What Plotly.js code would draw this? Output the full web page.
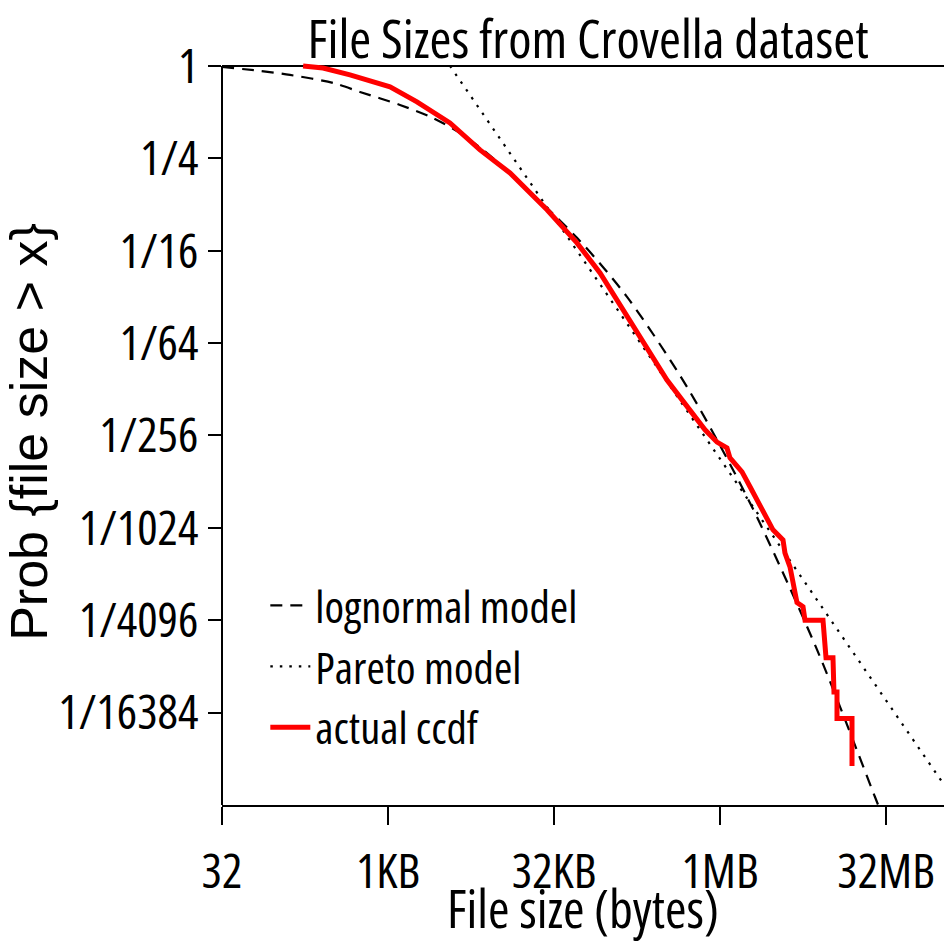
<!DOCTYPE html>
<html>
<head>
<meta charset="utf-8">
<script src="https://cdn.plot.ly/plotly-3.0.1.min.js"></script>
<style>
  html, body { margin: 0; padding: 0; background: #fff; }
  #chart { width: 944px; height: 942px; }
  /* condensed lettering for titles, ticks and legend */
  svg text { font-stretch: 78%; }
  svg text.ytitle { font-stretch: 100%; }
</style>
</head>
<body>
<div id="chart"></div>
<script>
// Complementary CDF of file sizes: observed data vs. two fitted models.

// Observed ccdf (file size in bytes, probability of a larger file)
const ccdfSize = [174, 264, 463, 1068, 1874, 3735, 6990, 13080, 28320, 52900,
  85650, 138400, 228300, 346800, 484400, 766600, 984500, 1213000, 1291000, 1660000,
  1962000, 2269000, 2682000, 3168000, 3906000, 4072000, 4519000, 4812000, 5231000, 5932000,
  6185000, 9004000, 9587000, 11090000, 11320000, 12060000, 12060000, 16500000, 16500000];
const ccdfProb = [1, 0.970, 0.874, 0.730, 0.583, 0.425, 0.2836, 0.2007, 0.1154, 0.0703,
  0.0448, 0.02575, 0.01474, 0.00897, 0.00654, 0.00425, 0.00354, 0.00324, 0.00279, 0.00226,
  0.00181, 0.00149, 0.00122, 0.000948, 0.000815, 0.000669, 0.000544, 0.000428, 0.000318, 0.000299,
  0.000244, 0.000244, 0.000139, 0.000139, 0.0000831, 0.0000831, 0.0000559, 0.0000559, 0.0000274];

// Lognormal model curve
const lognormSize = [32, 70.8, 132.3, 324.7, 570.8, 1315, 2619, 4901, 9560, 52980,
  150500, 526500, 1962000, 7945000, 26670000, 29620000];
const lognormProb = [0.985, 0.928, 0.874, 0.775, 0.677, 0.557, 0.458, 0.355, 0.244, 0.0758,
  0.03125, 0.0081, 0.00142, 0.000157, 0.0000172, 0.0000142];

// Pareto model (flat at 1 below its minimum size, then a power law)
const paretoSize = [3735, 157200000];
const paretoProb = [1, 0.0000146];

// Axis ticks
const xTickVals = [32, 1024, 32768, 1048576, 33554432];
const xTickText = ['32', '1KB', '32KB', '1MB', '32MB'];
const yTickVals = [1, 1/4, 1/16, 1/64, 1/256, 1/1024, 1/4096, 1/16384];
const yTickText = ['1', '1/4', '1/16', '1/64', '1/256', '1/1024', '1/4096', '1/16384'];

const NARROW = '"Open Sans", "Liberation Sans", sans-serif';
const REGULAR = '"Liberation Sans", Arial, sans-serif';

const traces = [
  {
    x: lognormSize, y: lognormProb, type: 'scatter', mode: 'lines',
    name: 'lognormal model',
    line: { color: 'black', width: 2.2, dash: '12px,8px', shape: 'spline', smoothing: 0.8 }
  },
  {
    x: paretoSize, y: paretoProb, type: 'scatter', mode: 'lines',
    name: 'Pareto model',
    line: { color: 'black', width: 2.2, dash: '2.5px,7px' }
  },
  {
    x: ccdfSize, y: ccdfProb, type: 'scatter', mode: 'lines',
    name: 'actual ccdf',
    line: { color: '#ff0000', width: 5 }
  }
];

const layout = {
  width: 944,
  height: 942,
  margin: { l: 222, r: 0, t: 59, b: 137, pad: 0 },
  paper_bgcolor: 'white',
  plot_bgcolor: 'white',
  hovermode: false,
  showlegend: true,
  title: {
    text: 'File Sizes from Crovella dataset',
    font: { family: NARROW, size: 53, color: 'black' },
    x: 0.507, xref: 'paper', xanchor: 'center',
    y: 0.958, yref: 'container', yanchor: 'middle'
  },
  xaxis: {
    type: 'log',
    range: [Math.log10(32), Math.log10(112600000)],
    tickmode: 'array', tickvals: xTickVals, ticktext: xTickText,
    ticks: 'outside', ticklen: 18, tickwidth: 2, tickcolor: 'black',
    showline: true, linewidth: 2, linecolor: 'black',
    showgrid: false, zeroline: false, automargin: false,
    ticklabeloverflow: 'allow', tickangle: 0, ticklabelstandoff: 5,
    tickfont: { family: NARROW, size: 48, color: 'black' }
  },
  yaxis: {
    type: 'log',
    range: [Math.log10(1/65536), Math.log10(1.1096)],
    tickmode: 'array', tickvals: yTickVals, ticktext: yTickText,
    ticks: 'outside', ticklen: 13, tickwidth: 2, tickcolor: 'black',
    showline: false, showgrid: false, zeroline: false, automargin: false,
    ticklabeloverflow: 'allow',
    tickfont: { family: NARROW, size: 48, color: 'black' },
    title: { text: 'Prob {file size > x}', font: { family: REGULAR, size: 52, color: 'black' }, standoff: 6 }
  },
  annotations: [
    // x-axis title, placed below the tick labels
    { text: 'File size (bytes)', showarrow: false,
      xref: 'paper', x: 0.5, xanchor: 'center',
      yref: 'paper', y: -0.1375, yanchor: 'middle',
      font: { family: NARROW, size: 52, color: 'black' } }
  ],
  legend: {
    x: 0.06, y: 0.315, xanchor: 'left', yanchor: 'top',
    bgcolor: 'rgba(0,0,0,0)', borderwidth: 0,
    font: { family: NARROW, size: 44.5, color: 'black' },
    itemwidth: 40, tracegroupgap: 0
  },
  shapes: [
    // horizontal reference at probability 1
    { type: 'line', layer: 'below', xref: 'paper', x0: 0, x1: 1, yref: 'y', y0: 1, y1: 1,
      line: { color: 'black', width: 2 } },
    // vertical axis line
    { type: 'line', layer: 'below', xref: 'paper', x0: 0, x1: 0, yref: 'y', y0: 1/65536, y1: 1,
      line: { color: 'black', width: 2 } }
  ]
};

Plotly.newPlot('chart', traces, layout, { staticPlot: true, displayModeBar: false });
</script>
</body>
</html>
